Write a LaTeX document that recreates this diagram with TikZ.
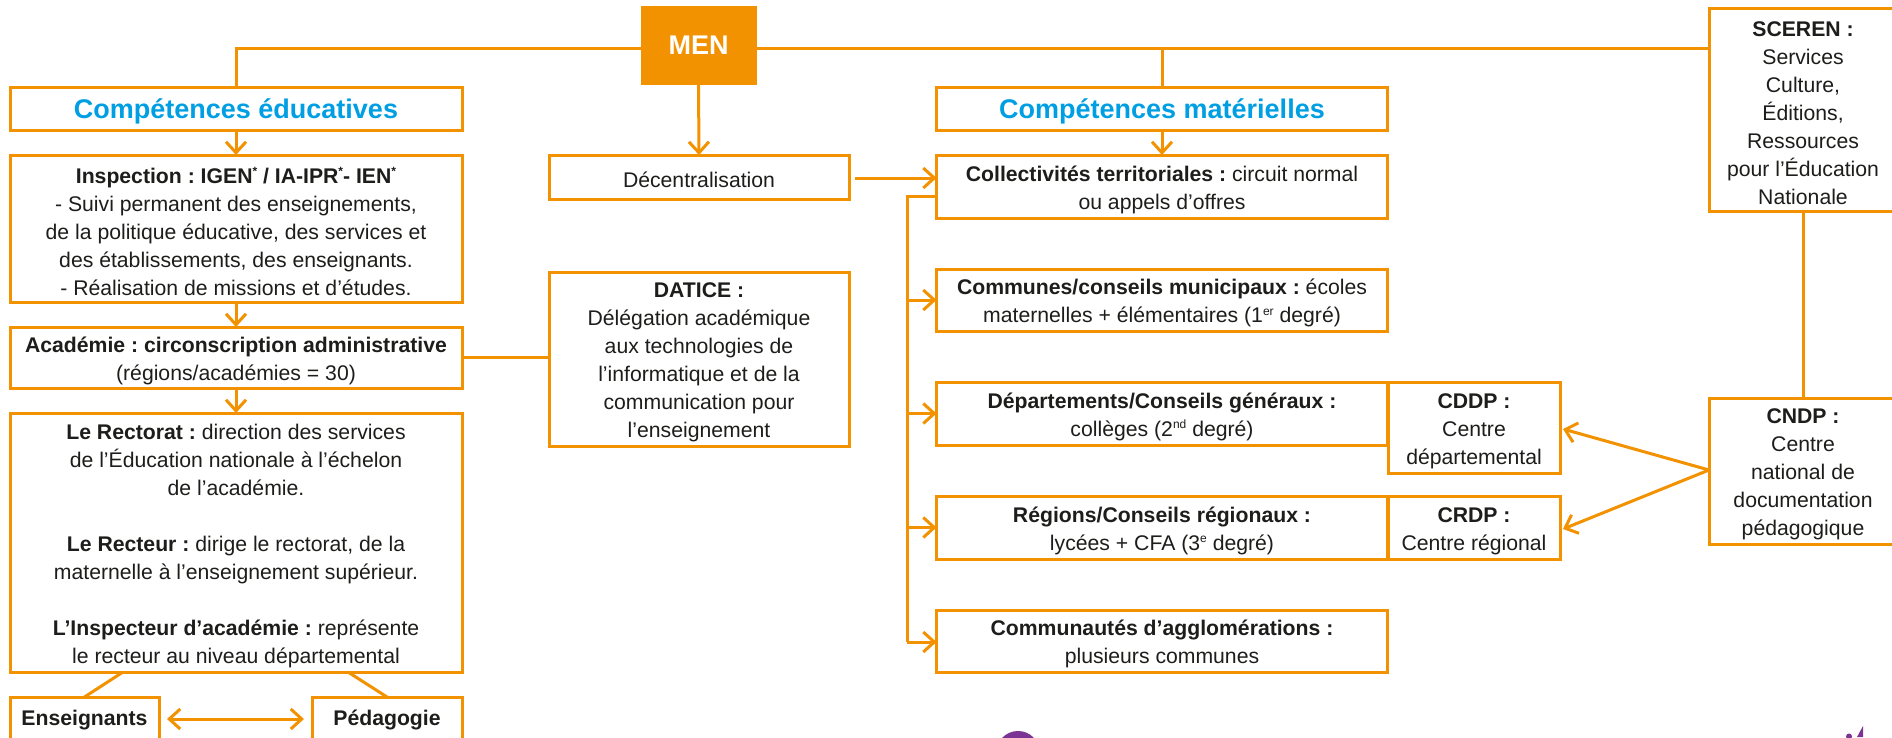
\documentclass[tikz,border=0pt]{standalone}
\usepackage{fontspec}
\usetikzlibrary{arrows.meta}
\setmainfont{Liberation Sans}
\frenchspacing
\definecolor{lineor}{HTML}{F39200}
\definecolor{headbl}{HTML}{009FE3}
\definecolor{txt}{HTML}{1D1D1B}
\definecolor{logop}{HTML}{7B3494}
\newcommand{\sz}{\fontsize{21.2}{28}\selectfont}
\newcommand{\up}[1]{\raisebox{7.5pt}{\fontsize{12}{12}\selectfont #1}}
\newcommand{\ft}{\rule{0pt}{22pt}}
\tikzset{
 x=1pt,y=-1pt,
 conn/.style={draw=lineor,line width=3pt},
 arr/.style={conn,-{Straight Barb[length=11pt,width=20pt,line width=3pt]}},
 darr/.style={conn,{Straight Barb[length=11pt,width=20pt,line width=3pt]}-{Straight Barb[length=11pt,width=20pt,line width=3pt]}},
 bx/.style={draw=lineor,line width=3pt,fill=white,text=txt,align=center,inner sep=0pt,outer sep=0pt,font=\sz},
 hd/.style={bx,text=headbl,font=\fontsize{27}{30}\selectfont\bfseries},
 capt/.style={text=txt,font=\sz\bfseries,inner sep=0pt},
}
\begin{document}
\begin{tikzpicture}
\useasboundingbox (0,0) rectangle (1892,737);
\clip (0,0) rectangle (1892,737);
\fill[white] (0,0) rectangle (1892,737);
% boxes
\node[bx,fill=lineor,text=white,font=\fontsize{27}{30}\selectfont\bfseries,minimum width=113pt,minimum height=76pt] (men) at (698.5,45) {MEN};
\node[hd,minimum width=452pt,minimum height=43pt] (ce) at (236,108.5) {\rule{0pt}{26pt}Compétences éducatives};
\node[bx,minimum width=452pt,minimum height=147pt] (insp) at (236,228.5) {\ft\textbf{Inspection : IGEN\up{*} / IA-IPR\up{*}- IEN\up{*}}\\- Suivi permanent des enseignements,\\de la politique éducative, des services et\\des établissements, des enseignants.\\- Réalisation de missions et d’études.};
\node[bx,minimum width=452pt,minimum height=61pt] (acad) at (236,357.5) {\ft\textbf{Académie : circonscription administrative}\\(régions/académies = 30)};
\node[bx,minimum width=452pt,minimum height=259pt] (rect) at (236,542.5) {\ft\textbf{Le Rectorat :} direction des services\\de l’Éducation nationale à l’échelon\\de l’académie.\\[28pt]\textbf{Le Recteur :} dirige le rectorat, de la\\maternelle à l’enseignement supérieur.\\[28pt]\textbf{L’Inspecteur d’académie :} représente\\le recteur au niveau départemental};
\node[bx,minimum width=149pt,minimum height=60pt] (ens) at (84.5,727) {};
\node[bx,minimum width=150pt,minimum height=60pt] (ped) at (387,727) {};
\node[capt] (enst) at (84.5,720) {Enseignants};
\node[capt] (pedt) at (387,720) {Pédagogie};
\node[bx,minimum width=300pt,minimum height=44pt] (dec) at (699,177) {\ft Décentralisation};
\node[bx,minimum width=300pt,minimum height=174pt] (dat) at (699,359) {\ft\textbf{DATICE :}\\Délégation académique\\aux technologies de\\l’informatique et de la\\communication pour\\l’enseignement};
\node[hd,minimum width=451pt,minimum height=43pt] (cm) at (1162,108.5) {\rule{0pt}{26pt}Compétences matérielles};
\node[bx,minimum width=451pt,minimum height=63pt] (coll) at (1162,186.5) {\ft\textbf{Collectivités territoriales :} circuit normal\\ou appels d’offres};
\node[bx,minimum width=451pt,minimum height=62pt] (com) at (1162,300) {\ft\textbf{Communes/conseils municipaux :} écoles\\maternelles + élémentaires (1\up{er} degré)};
\node[bx,minimum width=451pt,minimum height=63pt] (dep) at (1162,413.5) {\ft\textbf{Départements/Conseils généraux :}\\collèges (2\up{nd} degré)};
\node[bx,minimum width=451pt,minimum height=63pt] (reg) at (1162,527.5) {\ft\textbf{Régions/Conseils régionaux :}\\lycées + CFA (3\up{e} degré)};
\node[bx,minimum width=451pt,minimum height=62pt] (cag) at (1162,641) {\ft\textbf{Communautés d’agglomérations :}\\plusieurs communes};
\node[bx,minimum width=172pt,minimum height=91pt] (cddp) at (1474,427.5) {\ft\textbf{CDDP :}\\Centre\\départemental};
\node[bx,minimum width=172pt,minimum height=63pt] (crdp) at (1474,527.5) {\ft\textbf{CRDP :}\\Centre régional};
\node[bx,minimum width=188pt,minimum height=203pt] (sce) at (1803,109.5) {\ft\textbf{SCEREN :}\\Services\\Culture,\\Éditions,\\Ressources\\pour l’Éducation\\Nationale};
\node[bx,minimum width=188pt,minimum height=146pt] (cndp) at (1803,471) {\ft\textbf{CNDP :}\\Centre\\national de\\documentation\\pédagogique};
% free ends
\coordinate (mL) at (236,48);
\coordinate (mM) at (1162,48);
\coordinate (tr0) at (907,196);
\coordinate (tr1) at (907,642);
\coordinate (dL) at (123,672);
\coordinate (dR) at (348,672);
\coordinate (ea) at (167,719);
\coordinate (pa) at (304,719);
\coordinate (da) at (855,178);
\coordinate (cn) at (1709,470);
\coordinate (tc) at (1563,429);
\coordinate (tr) at (1563,529);
% connectors
\draw[conn] (men.west |- mL) -- (mL) -- (ce.north);
\draw[conn] (men.east |- mL) -- (sce.west |- mL);
\draw[conn] (mM) -- (cm.north);
\draw[arr] (men.south) -- (dec.north);
\draw[arr] (ce.south) -- (insp.north);
\draw[arr] (insp.south) -- (acad.north);
\draw[arr] (acad.south) -- (rect.north);
\draw[arr] (cm.south) -- (coll.north);
\draw[conn] (acad.east) -- (acad.east -| dat.west);
\draw[conn] (dL) -- (ens.north);
\draw[conn] (dR) -- (ped.north);
\draw[darr] (ea) -- (pa);
\draw[arr] (da) -- (da -| coll.west);
\draw[conn] (coll.west |- tr0) -- (tr0) -- (tr1);
\draw[arr] (tr0 |- com.west) -- (com.west);
\draw[arr] (tr0 |- dep.west) -- (dep.west);
\draw[arr] (tr0 |- reg.west) -- (reg.west);
\draw[arr] (tr1) -- (tr1 -| cag.west);
\draw[conn] (sce.south) -- (cndp.north);
\draw[arr] (cn) -- (tc);
\draw[arr] (cn) -- (tr);
% logo fragments cut off by the lower edge
\fill[logop] (1018,752.75) circle[radius=21.75pt];
\fill[logop] (1863,726) -- (1857,737) -- (1863,737) -- cycle;
\fill[logop] (1849,736.5) circle[radius=3pt];
\end{tikzpicture}
\end{document}
